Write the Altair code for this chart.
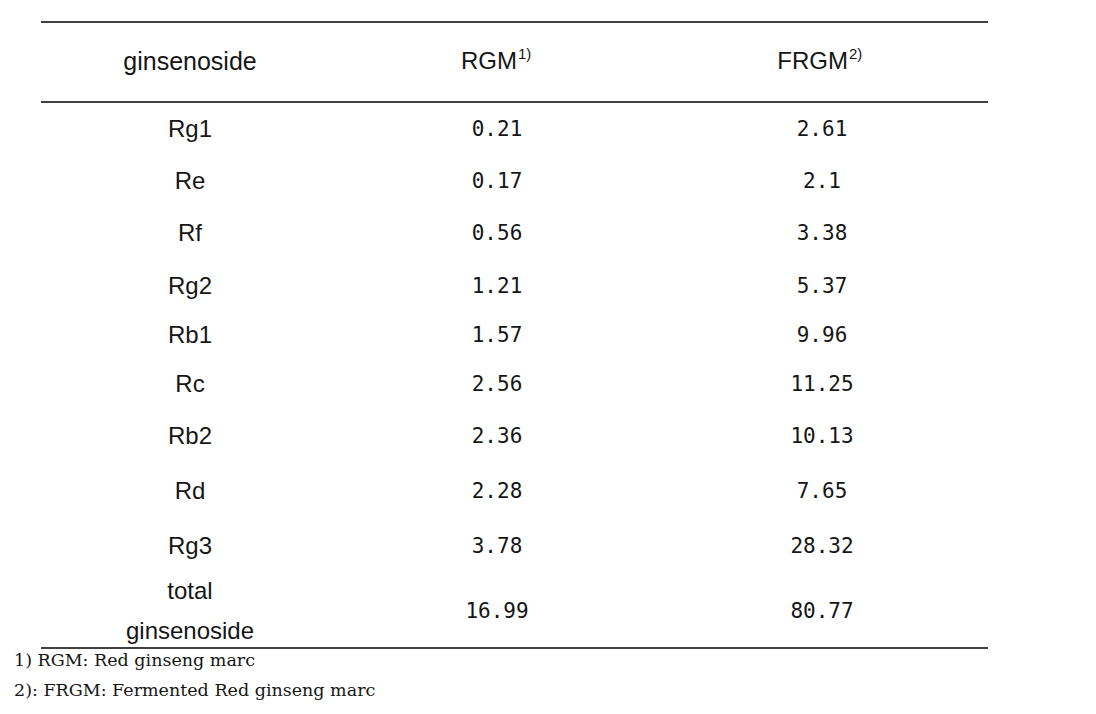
import altair as alt
import pandas as pd

# ---- data ----
ginsenosides = ["Rg1", "Re", "Rf", "Rg2", "Rb1", "Rc", "Rb2", "Rd", "Rg3", "total\nginsenoside"]
rgm = ["0.21", "0.17", "0.56", "1.21", "1.57", "2.56", "2.36", "2.28", "3.78", "16.99"]
frgm = ["2.61", "2.1", "3.38", "5.37", "9.96", "11.25", "10.13", "7.65", "28.32", "80.77"]
columns = ["ginsenoside", "RGM", "FRGM"]
superscripts = ["", "1)", "2)"]
footnotes = ["1) RGM: Red ginseng marc", "2): FRGM: Fermented Red ginseng marc"]

# layout (scale ranges): row 0 = header, rows 1..10 = table body, 11..12 = footnotes
row_pos = [54, 122, 174, 226, 279, 328, 377, 429, 484, 539, 604, 653, 683]
col_pos = [182, 489, 814]

names_df = pd.DataFrame({"row": list(range(1, len(ginsenosides) + 1)), "col": 0, "text": ginsenosides})
nums = []
for i, (a, b) in enumerate(zip(rgm, frgm)):
    nums.append({"row": i + 1, "col": 1, "text": a})
    nums.append({"row": i + 1, "col": 2, "text": b})
nums_df = pd.DataFrame(nums)
header_df = pd.DataFrame({"row": [0] * 3, "col": [0, 1, 2], "text": columns, "sup": superscripts})
foot_df = pd.DataFrame({"row": [11, 12], "text": footnotes})

yscale = alt.Scale(type="linear", domain=list(range(len(row_pos))), range=row_pos, zero=False, nice=False)
xscale = alt.Scale(type="linear", domain=[0, 1, 2], range=col_pos, zero=False, nice=False)
Y = alt.Y("row:Q", scale=yscale, axis=None)
X = alt.X("col:Q", scale=xscale, axis=None)

ink = "#161616"

names_single = alt.Chart(names_df[~names_df.text.str.contains("\n")]).mark_text(
    font="Liberation Sans", fontSize=24, color=ink, align="center", baseline="middle"
).encode(x=X, y=Y, text="text:N")

names_multi = alt.Chart(names_df[names_df.text.str.contains("\n")]).mark_text(
    font="Liberation Sans", fontSize=24, color=ink, lineBreak="\n", lineHeight=40,
    align="center", baseline="middle", dy=-20
).encode(x=X, y=Y, text="text:N")

numbers = alt.Chart(nums_df).mark_text(
    font="DejaVu Sans Mono", fontSize=21, color=ink, align="center", baseline="middle"
).encode(x=X, y=Y, text="text:N")

header_name = alt.Chart(header_df[header_df.col == 0]).mark_text(
    font="Liberation Sans", fontSize=25, color=ink, align="center", baseline="middle"
).encode(x=X, y=Y, text="text:N")

header_rgm = alt.Chart(header_df[header_df.col == 1]).mark_text(
    font="Liberation Sans", fontSize=24, color=ink, align="right", baseline="middle", dx=20
).encode(x=X, y=Y, text="text:N")

header_frgm = alt.Chart(header_df[header_df.col == 2]).mark_text(
    font="Liberation Sans", fontSize=24, color=ink, align="right", baseline="middle", dx=26
).encode(x=X, y=Y, text="text:N")

sup1 = alt.Chart(header_df[header_df.col == 1]).mark_text(
    font="Liberation Sans", fontSize=15, color=ink, align="left", baseline="middle", dx=21, dy=-8
).encode(x=X, y=Y, text="sup:N")

sup2 = alt.Chart(header_df[header_df.col == 2]).mark_text(
    font="Liberation Sans", fontSize=15, color=ink, align="left", baseline="middle", dx=27, dy=-8
).encode(x=X, y=Y, text="sup:N")

foot = alt.Chart(foot_df).mark_text(
    font="DejaVu Serif", fontSize=17.5, color=ink, align="left", baseline="middle"
).encode(x=alt.value(6), y=Y, text="text:N")

rule_src = pd.DataFrame({"k": [0]})
def hline(y, x0=33, x1=980):
    return alt.Chart(rule_src).mark_rule(color="#000000", strokeWidth=1.3).encode(
        x=alt.value(x0), x2=alt.value(x1), y=alt.value(y)
    )

chart = alt.layer(
    hline(14), hline(94), hline(640),
    header_name, header_rgm, header_frgm, sup1, sup2,
    names_single, names_multi, numbers, foot
).properties(
    width=1080, height=698, padding=0, autosize=alt.AutoSizeParams(type="none")
).configure_view(stroke=None)

chart.save("out.html", embed_options={"renderer": "svg", "actions": False})
